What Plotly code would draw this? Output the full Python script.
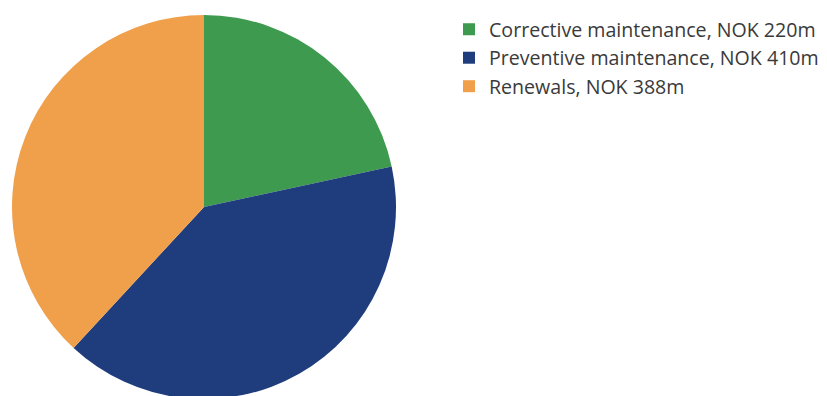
import plotly.graph_objects as go

labels = ["Corrective maintenance, NOK 220m",
          "Preventive maintenance, NOK 410m",
          "Renewals, NOK 388m"]
values = [220, 410, 388]
colors = ["#3d9a4e", "#1f3d7c", "#f0a04b"]

# page body has an 8px margin, so the figure is drawn from (8, 8)
W, H = 827, 396

fig = go.Figure(go.Pie(
    labels=labels,
    values=values,
    marker=dict(colors=colors, line=dict(width=0)),
    sort=False,
    direction="clockwise",
    rotation=0,
    textinfo="none",
    hoverinfo="label+percent",
    domain=dict(x=[4 / W, 388 / W], y=[5 / H, 1 - 7 / H]),
))

fig.update_layout(
    width=W, height=H,
    margin=dict(l=0, r=0, t=0, b=0),
    paper_bgcolor="white",
    plot_bgcolor="white",
    showlegend=True,
    legend=dict(
        x=441 / W, y=1 - 2 / H,
        xanchor="left", yanchor="top",
        font=dict(family="Open Sans", size=19.6, color="#3a3a3a"),
        bgcolor="rgba(0,0,0,0)",
        traceorder="normal",
    ),
)

fig.write_html("out.html")
